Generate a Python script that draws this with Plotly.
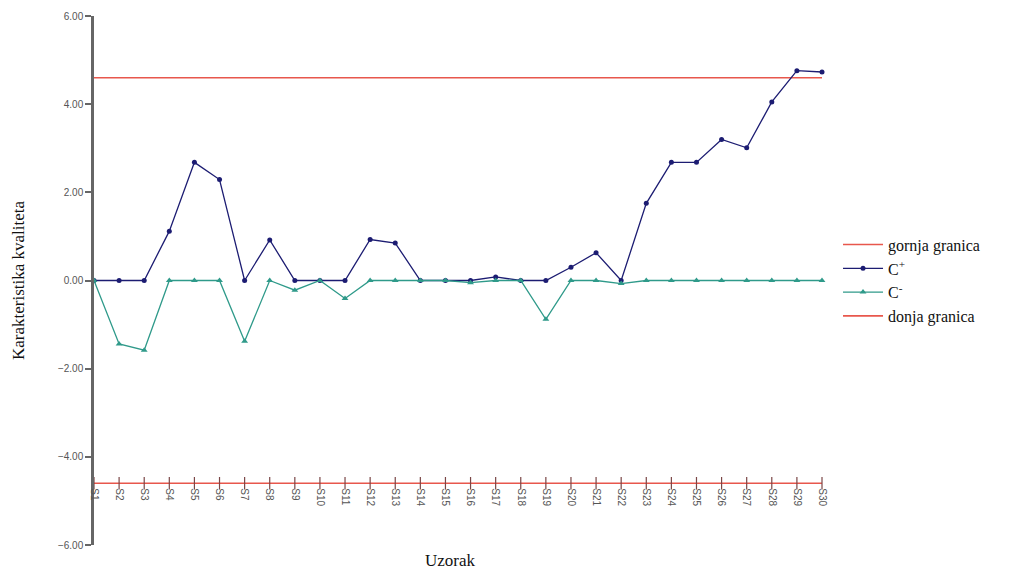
import plotly.graph_objects as go

samples = [f"S{i}" for i in range(1, 31)]
c_plus = [0, 0, 0, 1.12, 2.68, 2.29, 0, 0.92, 0, 0, 0, 0.93, 0.85, 0, 0, 0, 0.08, 0, 0,
          0.30, 0.63, 0, 1.75, 2.68, 2.68, 3.20, 3.01, 4.05, 4.76, 4.73]
c_minus = [0, -1.44, -1.58, 0, 0, 0, -1.38, 0, -0.22, 0, -0.41, 0, 0, 0, 0, -0.05, 0, 0,
           -0.88, 0, 0, -0.07, 0, 0, 0, 0, 0, 0, 0, 0]
upper = [4.6] * 30
lower = [-4.6] * 30
y_ticks = [-6, -4, -2, 0, 2, 4, 6]

RED = "#e8574c"
NAVY = "#1c1c72"
TEAL = "#2f9a8a"
TICK = "#7a4646"

fig = go.Figure()
fig.add_trace(go.Scatter(x=samples, y=upper, mode="lines", name="gornja granica",
                         line=dict(color=RED, width=1.6), cliponaxis=False))
fig.add_trace(go.Scatter(x=samples, y=c_plus, mode="lines+markers", name="C<sup>+</sup>",
                         line=dict(color=NAVY, width=1.3),
                         marker=dict(symbol="circle", size=5, color=NAVY), cliponaxis=False))
fig.add_trace(go.Scatter(x=samples, y=c_minus, mode="lines+markers", name="C<sup>-</sup>",
                         line=dict(color=TEAL, width=1.3),
                         marker=dict(symbol="triangle-up", size=6, color=TEAL), cliponaxis=False))
fig.add_trace(go.Scatter(x=samples, y=lower, mode="lines", name="donja granica",
                         line=dict(color=RED, width=1.6), cliponaxis=False))
# crossing tick marks on the category axis line
fig.add_trace(go.Scatter(x=samples, y=lower, mode="markers", showlegend=False, hoverinfo="skip",
                         marker=dict(symbol="line-ns-open", size=9, color=TICK,
                                     line=dict(color=TICK, width=1.2)),
                         cliponaxis=False))

y0, y1 = -6, 6
fig.update_layout(
    width=1000, height=566,
    margin=dict(l=86, r=186, t=8, b=29, autoexpand=False),
    paper_bgcolor="white", plot_bgcolor="white",
    font=dict(family="Liberation Sans, Arial", size=10, color="#555555"),
    showlegend=True,
    legend=dict(x=1.022, y=0.600, xanchor="left", yanchor="top",
                font=dict(family="Liberation Serif, Times New Roman", size=16, color="#111111"),
                tracegroupgap=0, itemwidth=40, bgcolor="rgba(0,0,0,0)"),
    xaxis=dict(type="category", range=[0, 29], showgrid=False, zeroline=False, showline=False,
               anchor="free", position=(-4.6 - y0) / (y1 - y0),
               ticks="", tickangle=90, tickfont=dict(size=10, color="#555555"),
               ticklabelstandoff=4),
    yaxis=dict(range=[y0, y1], tickvals=y_ticks, tickformat=".2f", showgrid=False,
               zeroline=False, showline=True, linecolor="#666666", linewidth=2.5,
               ticks="outside", ticklen=6, tickcolor="#666666", tickwidth=1.5,
               tickfont=dict(size=10, color="#555555")),
    annotations=[
        dict(text="Karakteristika kvaliteta", xref="paper", yref="paper",
             x=(10 - 86) / 728, y=(537 - 272) / 529, textangle=-90, showarrow=False,
             xanchor="center", yanchor="middle",
             font=dict(family="Liberation Serif, Times New Roman", size=17, color="#111111")),
        dict(text="Uzorak", xref="paper", yref="paper",
             x=(442 - 86) / 728, y=(537 - 552) / 529, showarrow=False,
             xanchor="center", yanchor="middle",
             font=dict(family="Liberation Serif, Times New Roman", size=17, color="#111111")),
    ],
)

fig.write_html("out.html")
